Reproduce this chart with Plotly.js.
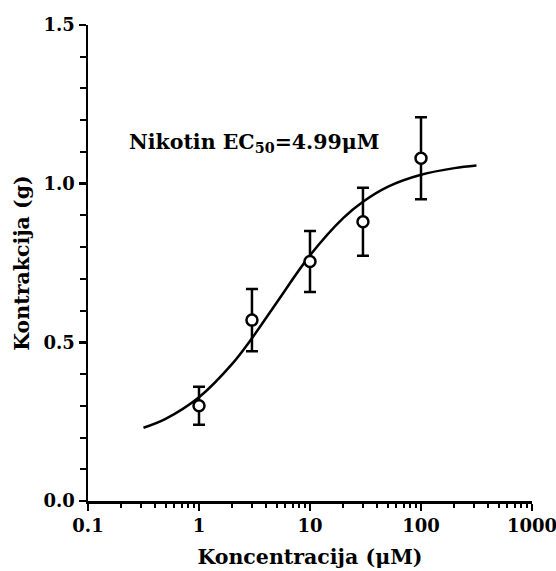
<!DOCTYPE html>
<html>
<head>
<meta charset="utf-8">
<script src="https://cdn.plot.ly/plotly-3.0.1.min.js"></script>
<style>html,body{margin:0;padding:0;background:#fff;}#chart{width:556px;height:571px;}</style>
</head>
<body>
<div id="chart"></div>
<script>
// Measured data (concentration in µM, contraction in g)
const concentrations = [1, 3, 10, 30, 100];
const contraction = [0.30, 0.57, 0.755, 0.88, 1.08];
const errors = [0.06, 0.098, 0.096, 0.107, 0.129];

// Fitted curve
const curveX = [0.316, 0.5, 1, 2, 3, 5, 10, 20, 30, 50, 100, 200, 316];
const curveY = [0.231, 0.259, 0.327, 0.433, 0.513, 0.625, 0.774, 0.892, 0.943, 0.990, 1.028, 1.049, 1.057];

const xTickVals = [0.1, 1, 10, 100, 1000];
const xTickText = ['0.1', '1', '10', '100', '1000'];
const yTickVals = [0, 0.5, 1.0, 1.5];
const yTickText = ['0.0', '0.5', '1.0', '1.5'];

const annotationText = '<b>Nikotin EC<sub>50</sub>=4.99μM</b>';
const xTitle = '<b>Koncentracija (μM)</b>';
const yTitle = '<b>Kontrakcija (g)</b>';

const FONT = 'DejaVu Serif, serif';

const traces = [
  {
    x: curveX, y: curveY, type: 'scatter', mode: 'lines',
    line: {color: '#000', width: 2.5, shape: 'spline'},
    hoverinfo: 'skip'
  },
  {
    x: concentrations, y: contraction, type: 'scatter', mode: 'markers',
    marker: {symbol: 'circle', size: 11, color: '#fff', line: {color: '#000', width: 2.5}},
    error_y: {type: 'data', array: errors, visible: true, color: '#000', thickness: 2.5, width: 6}
  }
];

const layout = {
  width: 556, height: 571,
  margin: {l: 88, r: 24, t: 25, b: 70},
  paper_bgcolor: '#fff', plot_bgcolor: '#fff',
  showlegend: false,
  font: {family: FONT, color: '#000', size: 18},
  xaxis: {
    type: 'log', range: [-1, 3],
    tickmode: 'array', tickvals: xTickVals, ticktext: xTickText,
    ticks: 'outside', ticklen: 7, tickwidth: 2.5, tickcolor: '#000',
    minor: {ticks: 'outside', ticklen: 4, tickwidth: 2, tickcolor: '#000', dtick: 'D1'},
    showline: true, linewidth: 2.5, linecolor: '#000',
    showgrid: false, zeroline: false,
    ticklabeloverflow: 'allow',
    tickfont: {family: FONT, size: 18, weight: 'bold'},
    title: {text: xTitle, font: {family: FONT, size: 20.5}, standoff: 15}
  },
  yaxis: {
    range: [0, 1.5],
    tickmode: 'array', tickvals: yTickVals, ticktext: yTickText,
    ticks: 'outside', ticklen: 7, tickwidth: 2.5, tickcolor: '#000',
    minor: {ticks: 'outside', ticklen: 6, tickwidth: 2, tickcolor: '#000', dtick: 0.1, tick0: 0},
    showline: true, linewidth: 2.5, linecolor: '#000',
    showgrid: false, zeroline: false,
    ticklabeloverflow: 'allow',
    tickfont: {family: FONT, size: 18, weight: 'bold'},
    title: {text: yTitle, font: {family: FONT, size: 20.5}, standoff: 9}
  },
  annotations: [{
    xref: 'paper', yref: 'paper', x: 0.374, y: 0.752,
    xanchor: 'center', yanchor: 'middle', showarrow: false,
    text: annotationText, font: {family: FONT, size: 20.5, color: '#000'}
  }]
};

Plotly.newPlot('chart', traces, layout, {displayModeBar: false, staticPlot: true});
</script>
</body>
</html>
